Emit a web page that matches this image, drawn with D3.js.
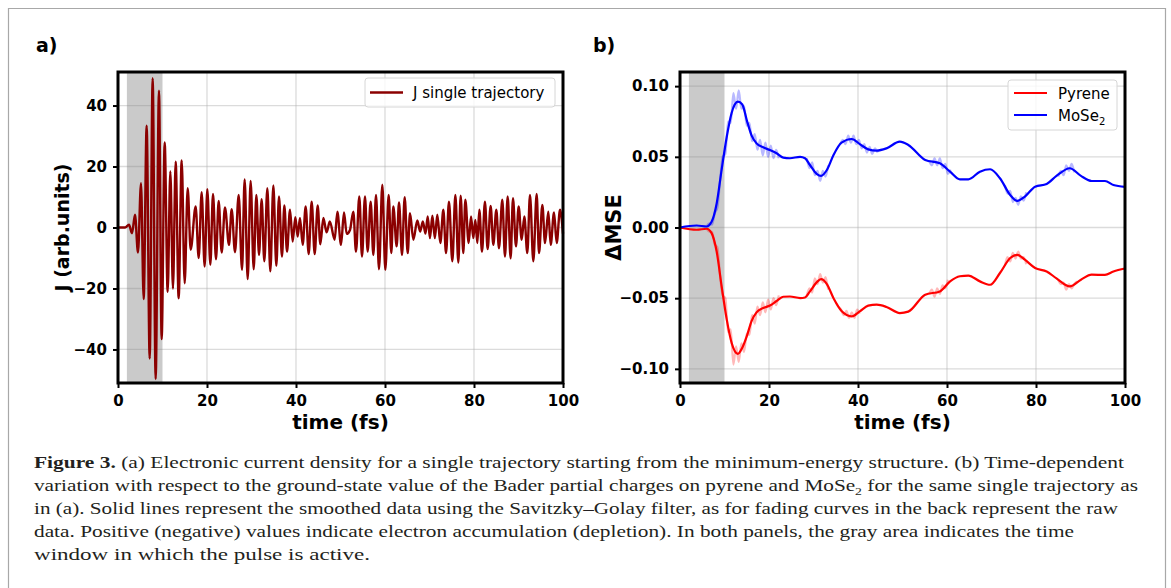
<!DOCTYPE html>
<html>
<head>
<meta charset="utf-8">
<script src="https://cdn.jsdelivr.net/npm/d3@7"></script>
<style>
  body { margin: 0; background: #fff; }
  svg { display: block; }
</style>
</head>
<body>
<div id="chart"></div>
<script>
// ---- data ----
// panel a: current density J, extrema of the trace [time fs, J]
var jTrace = [[0,0],[1.6,0],[2.47,0.9],[3.15,-1.9],[3.82,4.2],[4.49,-8.2],[5.17,14.5],[5.77,-23.5],[6.44,33.4],[7.12,-43],
  [7.79,49],[8.46,-49.7],[9.21,44.9],[9.81,-36.6],[10.49,27.9],[11.16,-21.1],[11.76,18.4],[12.35,-20],[12.96,21.6],[13.63,-23.2],
  [14.31,22],[14.98,-18.3],[15.66,12.9],[16.33,-7.3],[17.45,6.9],[18.13,-10],[18.8,11.6],[19.47,-12.8],[20.07,12.6],[20.75,-12.2],
  [21.35,11],[22.02,-10.4],[22.62,8.7],[23.3,-8.2],[24.04,6.6],[24.94,-5.7],[25.54,6],[26.29,-8.1],[27.12,10.7],[27.87,-13.9],
  [28.46,15.8],[29.14,-16.9],[29.81,15.3],[30.49,-13.7],[31.09,10.7],[31.69,-9],[32.28,9.3],[32.88,-11.1],[33.56,12.9],[34.23,-14.4],
  [34.91,13.8],[35.58,-12.6],[36.18,10.2],[36.85,-9.5],[37.38,7.2],[37.98,-7.9],[38.65,5.8],[39.25,-4.6],[39.85,3.4],[40.37,-3],
  [40.9,3.1],[41.5,-5.7],[42.17,6.9],[42.85,-8.7],[43.52,8.5],[44.2,-8.7],[44.87,7.2],[45.47,-5.5],[46.14,3.1],[46.89,-1.6],
  [47.6,2],[48.69,-4],[49.29,5.2],[50.11,-5.7],[50.79,4.9],[51.39,-2.1],[52.13,-0.8],[52.88,5.2],[53.48,-7.9],[54.23,10.2],
  [54.83,-9.5],[55.5,10.2],[56.1,-7.9],[56.78,8.5],[57.38,-9],[57.98,10.7],[58.65,-13.7],[59.4,14],[60.07,-13.9],[60.82,10.7],
  [61.42,-8.4],[61.87,6.9],[62.62,-6.2],[63.15,8.2],[63.82,-9],[64.42,9.9],[65.1,-8.4],[65.62,4.7],[66.37,-4],[67.26,2.3],
  [67.9,-1.3],[68.5,2],[69.1,-2],[69.6,3.6],[70.1,-3.5],[70.65,3.9],[71.2,-3.5],[71.76,4.2],[72.43,-5.1],[73.11,5.8],
  [73.71,-8.4],[74.38,8.5],[75.13,-11.1],[75.81,10.7],[76.48,-11.5],[77.0,10.4],[77.6,-8.4],[78.05,9.1],[78.8,-5.1],[79.33,3.6],
  [79.85,-3.5],[80.3,2.5],[80.75,-5.1],[81.2,5.8],[81.8,-7.9],[82.46,8.5],[83.06,-7.1],[83.74,7.1],[84.34,-5.7],[85.01,5.8],
  [85.61,-6.8],[86.36,9.1],[86.96,-9.5],[87.56,10.2],[88.23,-10.1],[88.76,9.6],[89.43,-6.2],[90.03,6.9],[90.71,-4],[91.31,3.6],
  [91.98,-8.4],[92.58,10.7],[93.33,-11.1],[94.08,11],[94.61,-8.4],[95.36,7.4],[95.96,-5.1],[96.7,5.2],[97.23,-5.7],[97.98,4.9],
  [98.58,-5.1],[99.33,5.8],[100,-2]];

// panel b: smoothed (Savitzky-Golay) curves
var smoothTime = [0,3.75,6,7.1,8.24,9.36,10.5,11.6,13.0,14.0,15.0,16.1,17.2,18.7,20.2,21.7,23.2,24.7,27.0,28.1,
  29.2,30.7,31.7,33.0,34.5,36.3,38.6,40.4,42.3,44.2,46.4,49.4,51.3,55.1,58.4,60.7,62.9,64.8,67.4,69.7,
  71.9,74.2,75.8,77.5,79.8,82.4,84.6,87.6,90.1,92.5,95.5,97.4,100];
var mose2Smooth = [0,0.0014,0.0007,0.004,0.017,0.041,0.064,0.081,0.089,0.087,0.076,0.065,0.0595,0.0567,0.0548,0.0525,0.0494,0.049,0.050,0.049,
  0.0442,0.038,0.0365,0.0407,0.0513,0.060,0.0626,0.059,0.0553,0.0544,0.056,0.0607,0.0584,0.0478,0.0454,0.0395,0.0341,0.0341,0.0395,0.0412,
  0.0348,0.023,0.0188,0.0219,0.0289,0.0308,0.0365,0.0419,0.0365,0.0329,0.0329,0.0301,0.0288];
var pyreneSmooth = [0,-0.0016,-0.0009,-0.004,-0.017,-0.0416,-0.065,-0.0816,-0.0894,-0.085,-0.077,-0.066,-0.060,-0.057,-0.0552,-0.052,-0.049,-0.0488,-0.0499,-0.0495,
  -0.0452,-0.0388,-0.0365,-0.040,-0.050,-0.059,-0.0628,-0.0593,-0.0553,-0.0546,-0.0562,-0.0605,-0.0595,-0.0475,-0.0452,-0.0381,-0.0345,-0.034,-0.0381,-0.0405,
  -0.0322,-0.0216,-0.0193,-0.0228,-0.0287,-0.0311,-0.036,-0.0416,-0.0369,-0.0334,-0.0335,-0.0311,-0.029];

// panel b: raw data, only the stretches where it shows out from under the smoothed line
var mose2Raw = [
  [[6.0,0.001],[6.6,0.003],[7.2,0.002],[7.8,0.010],[8.4,0.014],[9.0,0.033],[9.6,0.050],[10.2,0.052],[10.8,0.075],[11.4,0.074],[12.0,0.095],[12.6,0.084],
   [13.2,0.097],[13.8,0.084],[14.4,0.086],[15.0,0.072],[15.6,0.074],[16.2,0.061],[16.8,0.066],[17.4,0.055],[18.0,0.062],[18.6,0.051],[19.2,0.060],
   [19.8,0.050],[20.4,0.058],[21.0,0.049],[21.6,0.055],[22.2,0.049]],
  [[28.5,0.049],[29.1,0.042],[29.7,0.046],[30.3,0.037],[30.9,0.040],[31.5,0.033],[32.1,0.040],[32.7,0.036],[33.3,0.044]],
  [[36.0,0.059],[36.6,0.062],[37.2,0.059],[37.8,0.065],[38.4,0.060],[39.0,0.065],[39.6,0.059],[40.2,0.062],[40.8,0.056],[41.4,0.059],[42.0,0.053],
   [42.6,0.057],[43.2,0.052],[43.8,0.056],[44.4,0.053]],
  [[56.0,0.047],[56.6,0.044],[57.2,0.049],[57.8,0.044],[58.4,0.049],[59.0,0.042],[59.6,0.045],[60.2,0.038],[60.8,0.041]],
  [[73.0,0.030],[73.6,0.024],[74.2,0.026],[74.8,0.018],[75.4,0.021],[76.0,0.016],[76.6,0.022],[77.2,0.019],[77.8,0.025]],
  [[85.0,0.036],[85.6,0.040],[86.2,0.037],[86.8,0.044],[87.4,0.040],[88.0,0.045],[88.6,0.039]]
];
var pyreneRaw = [
  [[6.0,-0.001],[6.6,-0.003],[7.2,-0.003],[7.8,-0.012],[8.4,-0.014],[9.0,-0.034],[9.6,-0.048],[10.2,-0.050],[10.8,-0.074],[11.4,-0.072],[12.0,-0.097],
   [12.6,-0.084],[13.2,-0.095],[13.8,-0.082],[14.4,-0.088],[15.0,-0.075],[15.6,-0.076],[16.2,-0.062],[16.8,-0.068],[17.4,-0.056],[18.0,-0.062],
   [18.6,-0.053],[19.2,-0.060],[19.8,-0.051],[20.4,-0.058],[21.0,-0.050],[21.6,-0.055],[22.2,-0.048]],
  [[28.5,-0.048],[29.1,-0.043],[29.7,-0.046],[30.3,-0.036],[30.9,-0.040],[31.5,-0.033],[32.1,-0.039],[32.7,-0.035],[33.3,-0.044]],
  [[35.0,-0.053],[35.6,-0.056],[36.2,-0.058],[36.8,-0.062],[37.4,-0.059],[38.0,-0.064],[38.6,-0.060],[39.2,-0.064],[39.8,-0.058],[40.4,-0.061]],
  [[56.0,-0.047],[56.6,-0.044],[57.2,-0.049],[57.8,-0.043],[58.4,-0.047],[59.0,-0.041],[59.6,-0.043],[60.2,-0.037]],
  [[73.0,-0.027],[73.6,-0.021],[74.2,-0.024],[74.8,-0.018],[75.4,-0.022],[76.0,-0.017],[76.6,-0.022],[77.2,-0.021],[77.8,-0.026]],
  [[85.0,-0.037],[85.6,-0.040],[86.2,-0.039],[86.8,-0.044],[87.4,-0.040],[88.0,-0.043],[88.6,-0.040],[89.2,-0.038]]
];

var pulseWindow = [2, 10];
var xTicks = [0, 20, 40, 60, 80, 100];
var yTicksA = [-40, -20, 0, 20, 40];
var yTicksB = [-0.10, -0.05, 0.00, 0.05, 0.10];

var captionLines = [
  "(a) Electronic current density for a single trajectory starting from the minimum-energy structure. (b) Time-dependent",
  "variation with respect to the ground-state value of the Bader partial charges on pyrene and MoSe|2| for the same single trajectory as",
  "in (a). Solid lines represent the smoothed data using the Savitzky\u2013Golay filter, as for fading curves in the back represent the raw",
  "data. Positive (negative) values indicate electron accumulation (depletion). In both panels, the gray area indicates the time",
  "window in which the pulse is active."
];

// ---- layout ----
var W = 1171, H = 588;
var plotTop = 72, plotBottom = 383;
var font = "DejaVu Sans";

var svg = d3.select("#chart").append("svg")
  .attr("width", W).attr("height", H);

svg.append("rect").attr("width", W).attr("height", H).attr("fill", "#fff");

// thin frame round the figure
svg.append("path")
  .attr("d", "M8.5," + H + "V8.5H1165.5V" + H)
  .attr("fill", "none").attr("stroke", "#a8a8a8").attr("stroke-width", 1.2);

function drawPanel(cfg) {
  var x = d3.scaleLinear().domain([0, 100]).range([cfg.left, cfg.right]);
  var y = d3.scaleLinear().domain(cfg.yDomain).range([plotBottom, plotTop]);
  var g = svg.append("g");

  // grid
  g.selectAll(".gx").data(xTicks).enter().append("line")
    .attr("x1", d => x(d)).attr("x2", d => x(d))
    .attr("y1", plotTop).attr("y2", plotBottom)
    .attr("stroke", "#b0b0b0").attr("stroke-opacity", 0.45).attr("stroke-width", 1.3);
  g.selectAll(".gy").data(cfg.yTicks).enter().append("line")
    .attr("x1", cfg.left).attr("x2", cfg.right)
    .attr("y1", d => y(d)).attr("y2", d => y(d))
    .attr("stroke", "#b0b0b0").attr("stroke-opacity", 0.45).attr("stroke-width", 1.3);

  // pulse window
  g.append("rect")
    .attr("x", x(pulseWindow[0])).attr("width", x(pulseWindow[1]) - x(pulseWindow[0]))
    .attr("y", plotTop).attr("height", plotBottom - plotTop)
    .attr("fill", "#808080").attr("fill-opacity", 0.42);

  cfg.draw(g, x, y);

  // axes
  var xAxis = g.append("g")
    .attr("transform", "translate(0," + plotBottom + ")")
    .call(d3.axisBottom(x).tickValues(xTicks).tickSize(5).tickSizeOuter(0).tickPadding(7));
  var yAxis = g.append("g")
    .attr("transform", "translate(" + cfg.left + ",0)")
    .call(d3.axisLeft(y).tickValues(cfg.yTicks).tickFormat(cfg.fmt).tickSize(5).tickSizeOuter(0).tickPadding(6));
  [xAxis, yAxis].forEach(function(a) {
    a.select(".domain").remove();
    a.selectAll("line").attr("stroke", "#000").attr("stroke-width", 2);
    a.selectAll("text").attr("font-family", font).attr("font-weight", "bold")
      .attr("font-size", 15).attr("fill", "#000");
  });

  // spines
  g.append("rect")
    .attr("x", cfg.left).attr("y", plotTop)
    .attr("width", cfg.right - cfg.left).attr("height", plotBottom - plotTop)
    .attr("fill", "none").attr("stroke", "#000").attr("stroke-width", 3);

  // labels
  g.append("text")
    .attr("x", (cfg.left + cfg.right) / 2).attr("y", 429)
    .attr("text-anchor", "middle")
    .attr("font-family", font).attr("font-weight", "bold").attr("font-size", 20)
    .text("time (fs)");
  g.append("text")
    .attr("transform", "translate(" + cfg.yLabelX + "," + ((plotTop + plotBottom) / 2) + ") rotate(-90)")
    .attr("text-anchor", "middle")
    .attr("font-family", font).attr("font-weight", "bold").attr("font-size", cfg.yLabelSize)
    .text(cfg.yLabel);
  g.append("text")
    .attr("x", cfg.tagX).attr("y", 52)
    .attr("font-family", font).attr("font-weight", "bold").attr("font-size", 19)
    .text(cfg.tag);

  return g;
}

// panel a
drawPanel({
  left: 118, right: 563, yDomain: [-51, 51], yTicks: yTicksA,
  fmt: d3.format("d"), yLabel: "J (arb.units)", yLabelX: 69, yLabelSize: 19, tag: "a)", tagX: 36,
  draw: function(g, x, y) {
    var line = d3.line().x(d => x(d[0])).y(d => y(d[1])).curve(d3.curveMonotoneX);
    g.append("path").datum(jTrace)
      .attr("d", line)
      .attr("fill", "none").attr("stroke", "#8b0000").attr("stroke-width", 2.4)
      .attr("stroke-linejoin", "round");

    // legend
    var lg = g.append("g");
    lg.append("rect").attr("x", 365).attr("y", 78).attr("width", 190).attr("height", 29).attr("rx", 3)
      .attr("fill", "#fff").attr("fill-opacity", 0.8).attr("stroke", "#d6d6d6");
    lg.append("line").attr("x1", 370).attr("x2", 403).attr("y1", 92.5).attr("y2", 92.5)
      .attr("stroke", "#8b0000").attr("stroke-width", 2.4);
    lg.append("text").attr("x", 413).attr("y", 98)
      .attr("font-family", font).attr("font-size", 15).text("J single trajectory");
  }
});

// panel b
drawPanel({
  left: 680, right: 1125, yDomain: [-0.11, 0.11], yTicks: yTicksB,
  fmt: d3.format(".2f"), yLabel: "\u0394MSE", yLabelX: 621, yLabelSize: 21, tag: "b)", tagX: 593,
  draw: function(g, x, y) {
    var line = d3.line().x(d => x(d[0])).y(d => y(d[1])).curve(d3.curveMonotoneX);
    var series = [
      { raw: pyreneRaw, smooth: pyreneSmooth, color: "#ff0000" },
      { raw: mose2Raw, smooth: mose2Smooth, color: "#0000ff" }
    ];
    series.forEach(function(s) {
      s.raw.forEach(function(seg) {
        g.append("path").datum(seg).attr("d", line)
          .attr("fill", "none").attr("stroke", s.color).attr("stroke-opacity", 0.28)
          .attr("stroke-width", 2.2);
      });
    });
    series.forEach(function(s) {
      var pts = smoothTime.map((t, i) => [t, s.smooth[i]]);
      g.append("path").datum(pts).attr("d", line)
        .attr("fill", "none").attr("stroke", s.color).attr("stroke-width", 2.2);
    });

    // legend
    var lg = g.append("g");
    lg.append("rect").attr("x", 1008).attr("y", 80).attr("width", 109).attr("height", 50).attr("rx", 3)
      .attr("fill", "#fff").attr("fill-opacity", 0.8).attr("stroke", "#d6d6d6");
    [["Pyrene", "#ff0000", 93], ["MoSe", "#0000ff", 115]].forEach(function(it, i) {
      lg.append("line").attr("x1", 1014).attr("x2", 1047).attr("y1", it[2]).attr("y2", it[2])
        .attr("stroke", it[1]).attr("stroke-width", 2.2);
      var t = lg.append("text").attr("x", 1058).attr("y", it[2] + 5.5)
        .attr("font-family", font).attr("font-size", 15).text(it[0]);
      if (i === 1) t.append("tspan").attr("font-size", 10).attr("dy", 4).text("2");
    });
  }
});

// caption
var capEnds = [1124, 1138, 1118, 1074, 370];
captionLines.forEach(function(str, i) {
  var t = svg.append("text")
    .attr("x", 34).attr("y", 468 + i * 23)
    .attr("font-family", "Liberation Serif").attr("font-size", 17).attr("fill", "#231f20")
    .attr("textLength", capEnds[i] - 34).attr("lengthAdjust", "spacingAndGlyphs");
  if (i === 0) t.append("tspan").attr("font-weight", "bold").text("Figure 3. ");
  var parts = str.split("|");
  t.append("tspan").text(parts[0]);
  if (parts.length > 1) {
    t.append("tspan").attr("font-size", 11).attr("dy", 4).text(parts[1]);
    t.append("tspan").attr("dy", -4).text(parts[2]);
  }
});
</script>
</body>
</html>
